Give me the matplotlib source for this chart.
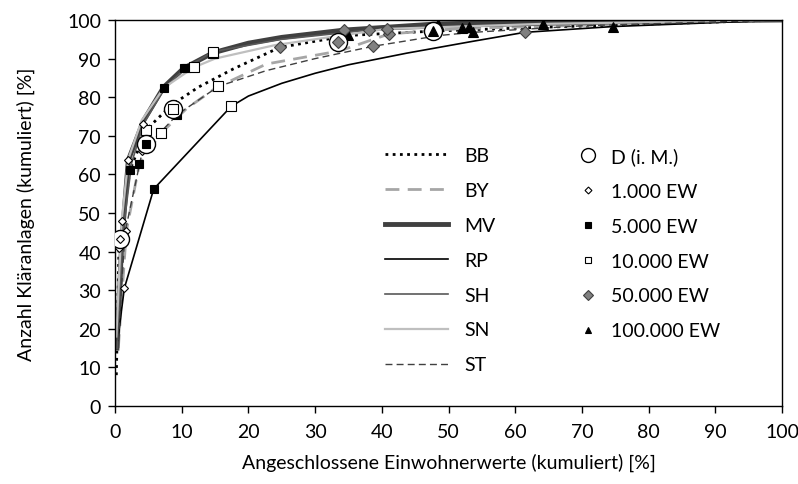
import matplotlib.pyplot as plt
from matplotlib.lines import Line2D

plt.rcParams['font.family'] = ['Lato', 'DejaVu Sans']

# size classes (markers on every curve)
classes = ["1.000 EW", "5.000 EW", "10.000 EW", "50.000 EW", "100.000 EW"]

# cumulative curves per state: x = connected population equivalents [%], y = plants [%]
x_bb = [0.2, 0.6, 2.25, 4.7, 8.5, 12.5, 17.7, 24.7, 35.0, 48.7, 63.7, 100]
y_bb = [8, 41, 61.2, 71.6, 78, 82.6, 87.3, 92.9, 96.0, 97.2, 98.1, 100]
k_bb = [1, 2, 3, 7, 8]

x_by = [0.5, 1.7, 3.65, 6.85, 10.7, 15.2, 22.7, 33.7, 41.1, 52.0, 100]
y_by = [15, 45.3, 62.7, 70.6, 77, 82.5, 88.6, 92.0, 96.4, 97.8, 100]
k_by = [1, 2, 3, 8, 9]

x_mv = [0.3, 1.0, 2.0, 4.3, 7.3, 10.3, 14.7, 20, 25, 34.4, 48.4, 64, 100]
y_mv = [15, 42, 63.7, 74, 82.6, 87.5, 91.5, 94, 95.5, 97.4, 99, 99.5, 100]
k_mv = [2, 5, 6, 9, 10]

x_rp = [0.4, 1.4, 5.8, 17.4, 20.0, 25.0, 30.0, 35.0, 43.7, 53.7, 61.4, 74.6, 100]
y_rp = [17, 30.5, 56.2, 77.6, 80.3, 83.6, 86.2, 88.4, 91.4, 94.5, 96.8, 98.3, 100]
k_rp = [1, 2, 3, 10, 11]

x_sh = [0.3, 1.2, 2.5, 4.25, 7.5, 10.6, 14.7, 25, 38.1, 53.0, 100]
y_sh = [15, 45, 63, 73, 82.5, 87.6, 91.8, 95, 97.4, 98.3, 100]
k_sh = [3, 5, 6, 8, 9]

x_sn = [0.2, 1.0, 2.0, 4.0, 7.3, 11.8, 15, 24, 40.7, 64.2, 100]
y_sn = [18, 48, 64, 74, 82.4, 87.7, 90, 93.5, 97.7, 99, 100]
k_sn = [1, 4, 5, 8, 9]

x_st = [0.5, 1.5, 4.1, 9.35, 15.5, 22.7, 30, 38.7, 48.7, 53.6, 70, 100]
y_st = [17, 45, 66, 75.5, 82.8, 86.9, 90, 93.2, 96, 96.8, 98.5, 100]
k_st = [2, 3, 4, 7, 9]

# Germany, mean values (circles only)
x_d = [0.8, 4.7, 8.7, 33.5, 47.6]
y_d = [43.3, 68.0, 77.0, 94.2, 97.2]

curves = {
    "BB": (x_bb, y_bb, k_bb, dict(color="black", lw=2.0, ls=(0, (1, 1.6)))),
    "BY": (x_by, y_by, k_by, dict(color="#a6a6a6", lw=2.0, ls=(0, (5, 3)))),
    "MV": (x_mv, y_mv, k_mv, dict(color="#404040", lw=3.5, ls="-")),
    "RP": (x_rp, y_rp, k_rp, dict(color="black", lw=1.2, ls="-")),
    "SH": (x_sh, y_sh, k_sh, dict(color="#595959", lw=1.2, ls="-")),
    "SN": (x_sn, y_sn, k_sn, dict(color="#bfbfbf", lw=1.6, ls="-")),
    "ST": (x_st, y_st, k_st, dict(color="#404040", lw=1.0, ls=(0, (5, 3)))),
}

mstyle = [
    dict(marker="D", ms=4.5, mfc="white", mec="black", mew=0.8),
    dict(marker="s", ms=6, mfc="black", mec="black", mew=0.8),
    dict(marker="s", ms=7, mfc="white", mec="black", mew=0.8),
    dict(marker="D", ms=6.5, mfc="#808080", mec="#404040", mew=0.8),
    dict(marker="^", ms=6.5, mfc="black", mec="black", mew=0.8),
]

fig = plt.figure(figsize=(7.98, 4.85), dpi=100)
ax = fig.add_axes([0.1441, 0.1608, 0.836, 0.7959])

handles = []
for name, (xs, ys, ks, st) in curves.items():
    h, = ax.plot(xs, ys, zorder=2, **st)
    handles.append((h, name))

for name, (xs, ys, ks, st) in curves.items():
    for j, k in enumerate(ks):
        ax.plot(xs[k], ys[k], ls="none", zorder=4, **mstyle[j])

ax.plot(x_d, y_d, ls="none", marker="o", ms=13, mfc="white", mec="black", mew=1.0, zorder=5)
for j in range(5):
    ax.plot(x_d[j], y_d[j], ls="none", zorder=6, **mstyle[j])

ax.set_xlim(0, 100)
ax.set_ylim(0, 100)
ax.set_xticks(range(0, 101, 10))
ax.set_yticks(range(0, 101, 10))
ax.tick_params(direction="out", length=5, width=1, labelsize=14, top=False, right=False)
ax.tick_params(axis="x", pad=7)
ax.tick_params(axis="y", pad=5)
for s in ax.spines.values():
    s.set_linewidth(1.0)
ax.set_xlabel("Angeschlossene Einwohnerwerte (kumuliert) [%]", fontsize=14, labelpad=9)
ax.set_ylabel("Anzahl Kläranlagen (kumuliert) [%]", fontsize=14, labelpad=23)

# two legend blocks: line styles (states) and markers (size classes)
leg1 = fig.legend([h for h, n in handles], [n for h, n in handles], frameon=False,
                  fontsize=14, handlelength=3.25, handletextpad=0.85, labelspacing=0.92,
                  borderpad=0, borderaxespad=0, loc="upper left",
                  bbox_to_anchor=(385 / 798, 1 - 148 / 485))

mk_h = [Line2D([], [], ls="none", marker="o", ms=10, mfc="white", mec="black", mew=1.0)]
mk_l = ["D (i. M.)"]
small = [3.5, 4.5, 5, 5, 5]
for j in range(5):
    st = dict(mstyle[j])
    st["ms"] = small[j]
    mk_h.append(Line2D([], [], ls="none", **st))
    mk_l.append(classes[j])
fig.legend(mk_h, mk_l, frameon=False, fontsize=14, handlelength=1.0,
           handletextpad=0.72, labelspacing=0.92, borderpad=0, borderaxespad=0,
           loc="upper left", bbox_to_anchor=(578 / 798, 1 - 148 / 485))

fig.savefig("out.png", dpi=100)
